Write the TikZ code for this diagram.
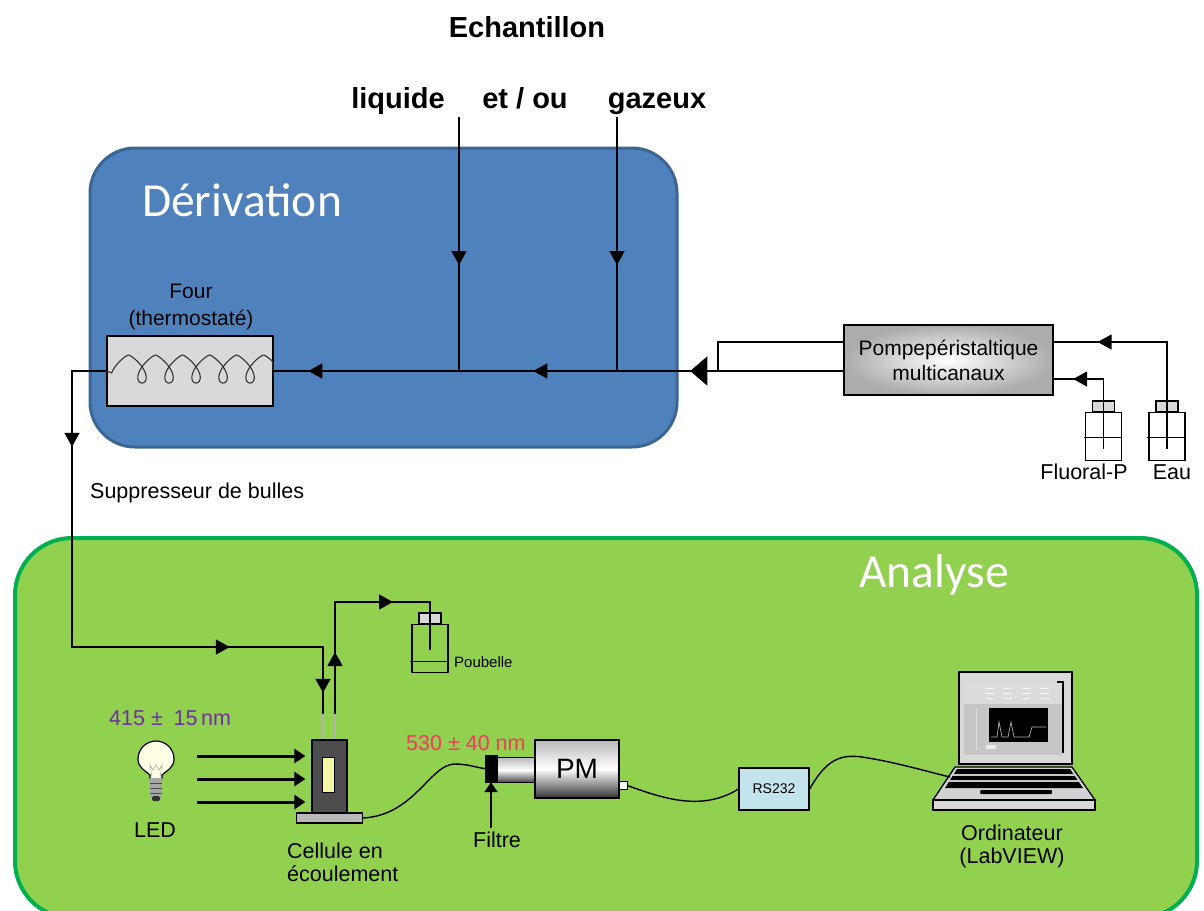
\documentclass[tikz,border=0pt]{standalone}
\usepackage{fontspec}
\setmainfont{Liberation Sans}
\newfontfamily\zonefont{Carlito}
\usetikzlibrary{positioning,calc,arrows.meta,decorations.markings}
\definecolor{derivfill}{HTML}{4F81BD}
\definecolor{derivline}{HTML}{3B6594}
\definecolor{anafill}{HTML}{92D050}
\definecolor{analine}{HTML}{00B050}
\definecolor{ledviolet}{HTML}{7030A0}
\definecolor{filterred}{HTML}{F23A62}
\definecolor{ovengray}{HTML}{D9D9D9}
\definecolor{celldark}{HTML}{4D4D4D}
\definecolor{cellwindow}{HTML}{F4F7A6}
\definecolor{rsblue}{HTML}{C3E4EC}
\definecolor{bulbglass}{HTML}{FFFDE3}
\tikzset{
  pipe/.style={draw=black, line width=1.5pt},
  tipat/.style={postaction={decorate, decoration={markings, mark=at position #1 with {\arrow{Triangle[length=14pt,width=15pt]}}}}},
  bigtipat/.style={postaction={decorate, decoration={markings, mark=at position #1 with {\arrow{Triangle[length=17pt,width=29pt]}}}}},
  cable/.style={draw=black, line width=1.4pt},
  beam/.style={draw=black, line width=3pt, -{Triangle[length=11pt,width=14pt]}},
  lbl/.style={font=\fontsize{21.5}{23}\selectfont, inner sep=0pt},
  head/.style={font=\bfseries\fontsize{29}{30}\selectfont, inner sep=0pt, anchor=base},
  zone/.style={font=\zonefont\fontsize{47.5}{50}\selectfont, text=white, inner sep=0pt},
  bottlecap/.style={draw=black, line width=1.3pt, fill=ovengray, minimum width=22pt, minimum height=11pt, inner sep=0pt},
}
\newcommand{\flask}[3]{
  \node[bottlecap] (#1) at #2 {};
  \draw[line width=1.3pt] ($(#1.south)+(-18,0)$) rectangle ($(#1.south)+(18,48)$);
  \draw[line width=1.3pt] ($(#1.south)+(-20,#3)$) -- ($(#1.south)+(18,#3)$);
}

\begin{document}
\begin{tikzpicture}[x=1pt,y=-1pt]
\useasboundingbox (0,0) rectangle (1204,910);

\draw[fill=derivfill, draw=derivline, line width=3pt, rounded corners=45pt] (90,148) rectangle (677,447);
\draw[fill=anafill, draw=analine, line width=4pt, rounded corners=57pt] (15,538) rectangle (1197,918);

\node[head] (echan) at (527,37) {Echantillon};
\node[head] (liq) at (398,108) {liquide};
\node[head] (etou) at (525,108) {et / ou};
\node[head] (gaz) at (657,108) {gazeux};
\node[zone] (deriv) at (242,200) {Dérivation};
\node[zone] (ana) at (934,575) {Analyse};

\node[draw=black, line width=1.5pt, fill=ovengray, minimum width=166pt, minimum height=70pt, inner sep=0pt] (oven) at (190,371) {};
\node[font=\fontsize{21}{27}\selectfont, inner sep=0pt, align=center] (ovenlbl) at (191,307) {Four\\(thermostaté)};
\draw[line width=1.1pt, black!80] (oven.west) -- plot[domain=1.5708:35.19, samples=500, variable=\t] ({115+4.3*\t-10*sin(deg(\t))}, {355+28*pow(abs(cos(deg(\t/2))),1.3)}) -- (oven.east);

\node[draw=black, line width=1.5pt, inner color=white, outer color=gray!65, minimum width=209pt, minimum height=70pt, align=center, font=\fontsize{21}{25}\selectfont] (pump) at (948.5,360) {Pompepéristaltique\\multicanaux};
\flask{fluo}{(1103.5,406.5)}{25}
\flask{eau}{(1167,406.5)}{25}
\node[lbl] (fluolbl) at (1084,472) {Fluoral-P};
\node[lbl] (eaulbl) at (1172,472) {Eau};
\node[lbl, anchor=west] (suppr) at (90,493) {Suppresseur de bulles};

\coordinate (liqtop) at (459,117);
\coordinate (liqjoin) at (459,371);
\coordinate (gaztop) at (617,117);
\coordinate (gazjoin) at (617,371);
\coordinate (pumpjoin) at (718,371);
\draw[pipe, tipat=148pt] (liqtop) -- (liqjoin);
\draw[pipe, tipat=148pt] (gaztop) -- (gazjoin);
\draw[pipe, bigtipat=153pt, tipat=310pt, tipat=535pt] (pump.west |- oven.east) -- (oven.east);
\draw[pipe] ($(pump.west)+(0,-18)$) -| (pumpjoin);
\draw[pipe, tipat=176pt] ($(eau.south)+(0,36)$) |- ($(pump.east)+(0,-18)$);
\draw[pipe, tipat=100pt] ($(fluo.south)+(0,36)$) |- ($(pump.east)+(0,19)$);

\node[draw=black, line width=1.3pt, fill=celldark, minimum width=35pt, minimum height=73pt, inner sep=0pt] (cell) at (329.5,776.5) {};
\node[draw=black, line width=1pt, fill=cellwindow, minimum width=12pt, minimum height=35pt, inner sep=0pt] (window) at (328,774.5) {};
\node[draw=black, line width=1.3pt, fill=gray!55, minimum width=66pt, minimum height=10pt, inner sep=0pt] (cellbase) at (329.5,818) {};
\node[lbl, align=left, anchor=north west] (celllbl) at (287,843) {Cellule en\\écoulement};
\coordinate (cellin) at (323,714);
\coordinate (cellout) at (335,714);
\draw[gray!60, line width=1.2pt] (cellin) -- (cellin |- cell.north);
\draw[gray!60, line width=1.2pt] (cellout) -- (cellout |- cell.north);

\flask{poub}{(430,618.5)}{37}
\node[font=\fontsize{15}{16}\selectfont, inner sep=0pt, anchor=west] (poublbl) at (454,662) {Poubelle};
\coordinate (bendin) at (72,647);
\coordinate (wastetop) at (430,602);
\coordinate (wastein) at (430,650);
\draw[pipe, tipat=110pt, tipat=468pt, tipat=607pt] (oven.west) -| (bendin) -| (cellin);
\draw[pipe, tipat=62pt, tipat=170pt] (cellout) |- (wastetop) -- (wastein);

\node[lbl, text=ledviolet, anchor=west] (ledband) at (109,718) {415 ±\enspace 15\,nm};
\coordinate (bulb) at (156,759);
\draw[fill=bulbglass, line width=1.2pt] (150,779) -- (150,775) .. controls (146,771) and (138,768) .. (138,759) arc[start angle=180, end angle=0, radius=18pt] .. controls (174,768) and (166,771) .. (162,775) -- (162,779);
\draw[gray!60, line width=0.6pt] (152,777) -- (150,765) -- (153,770) -- (156,765) -- (159,770) -- (162,765) -- (160,777);
\fill[gray!70] (150,778) rectangle (162,797);
\foreach \yy in {783,788,793} \draw[black!70, line width=1pt] (150,\yy) -- (162,\yy);
\fill[black!80, rounded corners=1.5pt] (152,796) rectangle (160,801);
\node[lbl] (led) at (155,830) {LED};
\foreach \yy [count=\i] in {756,779,802} {
  \coordinate (beam\i) at (197,\yy);
  \draw[beam, shorten >=6pt] (beam\i) -- (cell.west |- beam\i);
}

\node[lbl, text=filterred, anchor=west] (pmband) at (406,743) {530 ± 40 nm};
\node[fill=black, draw=black, minimum width=12pt, minimum height=27pt, inner sep=0pt] (filter) at (491,768.5) {};
\node[draw=black, line width=1pt, top color=gray!55, bottom color=black!75, middle color=white, minimum width=38pt, minimum height=25pt, inner sep=0pt] (tube) at (516,770) {};
\node[draw=black, line width=1.5pt, top color=gray!55, bottom color=black!80, middle color=white, minimum width=84pt, minimum height=58pt, font=\fontsize{28}{30}\selectfont] (pm) at (577,769) {PM};
\node[draw=black, fill=white, line width=0.8pt, minimum width=8pt, minimum height=8pt, inner sep=0pt] (pmport) at (623,785.5) {};
\node[lbl] (filtre) at (497,840) {Filtre};
\draw[black, line width=2.6pt, shorten <=4pt, -{Triangle[length=10pt,width=13pt]}] (filter.south |- filtre.north) -- (filter.south);
\draw[cable] (cellbase.east) .. controls (415,815) and (430,764) .. (455,764) .. controls (468,764) and (478,768) .. (filter.west);

\node[draw=black, line width=1.3pt, fill=rsblue, minimum width=70pt, minimum height=42pt, font=\fontsize{14}{16}\selectfont] (rs) at (774,789) {RS232};
\draw[cable] (pmport.east) .. controls (662,798) and (702,812) .. (rs.west);

\draw[line width=1.3pt, fill=gray!30] (959,672) rectangle (1072,764);
\fill[gray!45] (964,682) rectangle (1063,755);
\fill[gray!28] (964,682) rectangle (1063,704);
\draw[line width=1.2pt] (1057,682) -- (1063,682) -- (1063,753);
\foreach \xx in {985,1003,1022,1040} \foreach \yy in {688,693,698} \fill[gray!8] (\xx,\yy) rectangle ++(9,1.4);
\draw[gray!25, line width=0.6pt] (976,708) -- (976,750);
\fill[black] (989,708) rectangle (1048,742);
\draw[gray!60, line width=0.7pt] (991,737) -- (997,737) -- (999,722) -- (1002,737) -- (1008,737) -- (1011,722) -- (1014,737) -- (1029,737) -- (1032,727) -- (1046,727);
\fill[gray!15] (986,745) rectangle (996,749);
\draw[line width=1.3pt, fill=gray!35] (955,767) -- (1072,767) -- (1095,800) -- (933,800) -- cycle;
\fill[black] (957,769) -- (1070,769) -- (1083,788) -- (945,788) -- cycle;
\draw[gray!45, line width=1.2pt] (953,775) -- (1075,775);
\draw[gray!45, line width=1.2pt] (949,781) -- (1079,781);
\fill[black, rounded corners=1pt] (980,790) rectangle (1052,794);
\draw[line width=1.3pt, fill=gray!30] (933,800) rectangle (1095,810);
\coordinate (pcport) at (950,777);
\node[lbl, align=center] (pclbl) at (1012,846) {Ordinateur\\(LabVIEW)};
\draw[cable] (rs.east) .. controls (826,760) and (840,754) .. (862,757) .. controls (895,762) and (925,771) .. (pcport);
\end{tikzpicture}
\end{document}
